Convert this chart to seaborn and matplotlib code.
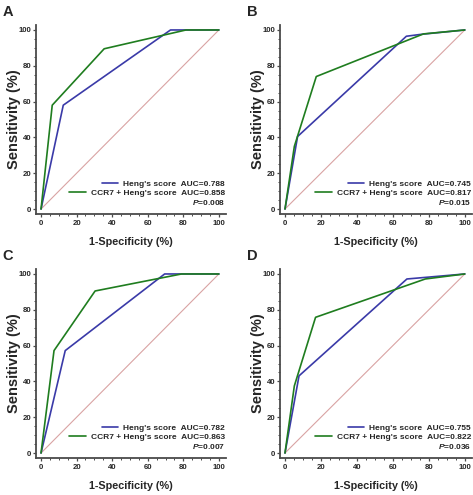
import matplotlib
matplotlib.use("Agg")
import matplotlib.pyplot as plt
import seaborn as sns
from matplotlib.lines import Line2D
from matplotlib.ticker import MultipleLocator

# ROC points (1-specificity %, sensitivity %)
panel_letters = ["A", "B", "C", "D"]

heng_x_a = [0, 12.5, 72.8, 100]
heng_y_a = [0, 58, 100, 100]
ccr7_x_a = [0, 6.3, 35.5, 81.5, 100]
ccr7_y_a = [0, 58, 89.5, 100, 100]

heng_x_b = [0, 7.0, 67.5, 76, 100]
heng_y_b = [0, 40.5, 96.5, 97.6, 100]
ccr7_x_b = [0, 5.2, 17.4, 77, 100]
ccr7_y_b = [0, 35, 74, 97.8, 100]

heng_x_c = [0, 13.6, 69.5, 100]
heng_y_c = [0, 57.2, 100, 100]
ccr7_x_c = [0, 7.3, 30.4, 79, 100]
ccr7_y_c = [0, 57.2, 90.5, 100, 100]

heng_x_d = [0, 7.8, 67.8, 100]
heng_y_d = [0, 43.1, 97.2, 100]
ccr7_x_d = [0, 5.2, 17.0, 78, 100]
ccr7_y_d = [0, 37.5, 75.8, 97.2, 100]

heng_auc = ["0.788", "0.745", "0.782", "0.755"]
ccr7_auc = ["0.858", "0.817", "0.863", "0.822"]
p_values = ["0.008", "0.015", "0.007", "0.036"]

ref_x = [0, 100]
ref_y = [0, 100]

sns.set_style("ticks")
plt.rcParams['font.family'] = ['Liberation Sans', 'DejaVu Sans']
plt.rcParams['font.weight'] = 'bold'
plt.rcParams['mathtext.fontset'] = 'custom'
plt.rcParams['mathtext.it'] = 'Liberation Sans:italic:bold'
plt.rcParams['mathtext.rm'] = 'Liberation Sans:bold'

BLUE = "#3a3aa8"
GREEN = "#1f7d1f"
DIAG = "#d9a3a3"
SPINE = "#4a4a4a"

W, H = 473, 495
fig = plt.figure(figsize=(W / 100, H / 100), dpi=100)


def rect(left, top, right, bottom):
    return [left / W, 1 - bottom / H, (right - left) / W, (bottom - top) / H]


rects = [
    rect(35.7, 24.6, 226, 214.4),
    rect(279.6, 24.6, 472, 214.4),
    rect(35.7, 268.6, 226, 458.4),
    rect(279.6, 268.6, 472, 458.4),
]

curves = [
    (heng_x_a, heng_y_a, ccr7_x_a, ccr7_y_a),
    (heng_x_b, heng_y_b, ccr7_x_b, ccr7_y_b),
    (heng_x_c, heng_y_c, ccr7_x_c, ccr7_y_c),
    (heng_x_d, heng_y_d, ccr7_x_d, ccr7_y_d),
]

for i, r in enumerate(rects):
    ax = fig.add_axes(r)
    hx, hy, cx, cy = curves[i]

    sns.lineplot(x=ref_x, y=ref_y, ax=ax, color=DIAG, linewidth=0.8,
                 estimator=None, sort=False)
    sns.lineplot(x=hx, y=hy, ax=ax, color=BLUE, linewidth=1.2,
                 estimator=None, sort=False)
    sns.lineplot(x=cx, y=cy, ax=ax, color=GREEN, linewidth=1.2,
                 estimator=None, sort=False)

    ax.set_xlim(-3, 104)
    ax.set_ylim(-3, 103)
    ax.xaxis.set_major_locator(MultipleLocator(20))
    ax.yaxis.set_major_locator(MultipleLocator(20))
    ax.xaxis.set_minor_locator(MultipleLocator(5))
    ax.yaxis.set_minor_locator(MultipleLocator(5))
    ax.tick_params(which='major', direction='out', length=2.5, width=0.9,
                   color=SPINE, labelsize=5.6)
    ax.tick_params(axis='y', which='major', pad=0.8)
    ax.tick_params(axis='x', which='major', pad=1.8)
    ax.tick_params(which='minor', direction='out', length=1.4, width=0.7,
                   color=SPINE)
    sns.despine(ax=ax)
    for s in ['left', 'bottom']:
        ax.spines[s].set_color(SPINE)
        ax.spines[s].set_linewidth(1.3)

    ax.set_xlabel("1-Specificity (%)", fontsize=7.8, fontweight='bold',
                  va='center')
    ax.xaxis.set_label_coords(0.5, -28 / 189.8)
    ax.set_ylabel("Sensitivity (%)", fontsize=10.5, fontweight='bold',
                  va='center')
    ax.yaxis.set_label_coords(-21.5 / 190.3, 0.5)

    handles = [
        Line2D([], [], color=BLUE, linewidth=1.2),
        Line2D([], [], color=GREEN, linewidth=1.2),
        Line2D([], [], color='none'),
    ]
    labels = [
        f"Heng's score  AUC={heng_auc[i]}",
        f"CCR7 + Heng's score  AUC={ccr7_auc[i]}",
        rf"$P$={p_values[i]}",
    ]
    leg = ax.legend(handles, labels, loc='lower right', bbox_to_anchor=(0.995, 0.04),
                    frameon=False, fontsize=6, handlelength=2.0, handletextpad=0.6,
                    labelspacing=0.12, borderpad=0, borderaxespad=0)
    leg._legend_handle_box.get_children()[0].align = "right"

    lx = r[0] * W
    ty = (1 - r[1] - r[3]) * H
    fig.text((lx - 33) / W, 1 - (ty - 20) / H, panel_letters[i], fontsize=10.5,
             fontweight='bold', ha='left', va='top')

fig.savefig("out.png", dpi=100)
